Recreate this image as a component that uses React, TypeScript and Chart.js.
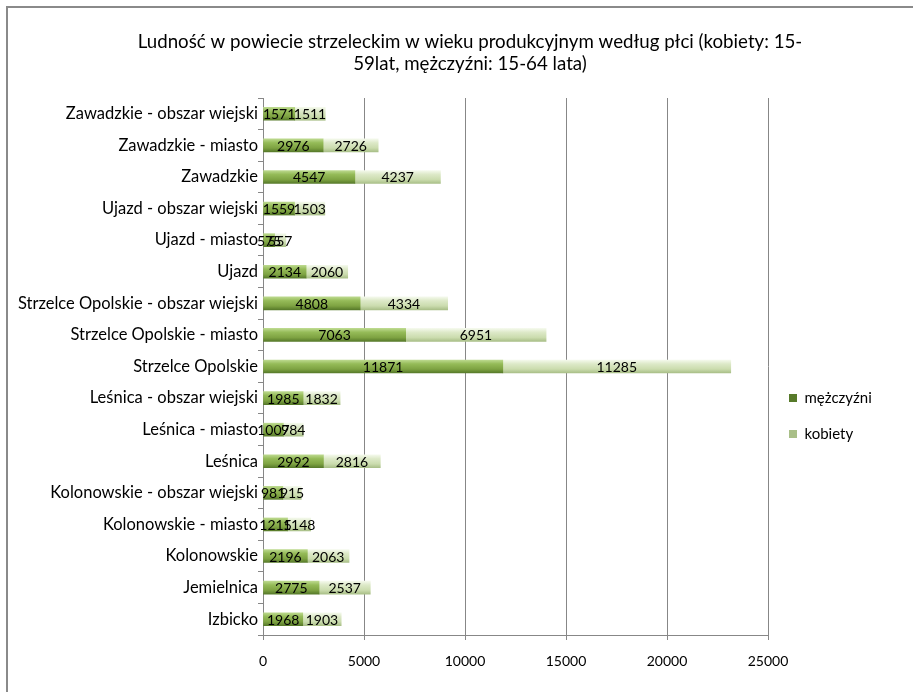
import React, { useEffect, useRef } from "react";
import { Chart, registerables } from "chart.js";

Chart.register(...registerables);

const categories = [
  "Zawadzkie - obszar wiejski",
  "Zawadzkie - miasto",
  "Zawadzkie",
  "Ujazd - obszar wiejski",
  "Ujazd - miasto",
  "Ujazd",
  "Strzelce Opolskie - obszar wiejski",
  "Strzelce Opolskie - miasto",
  "Strzelce Opolskie",
  "Leśnica - obszar wiejski",
  "Leśnica - miasto",
  "Leśnica",
  "Kolonowskie - obszar wiejski",
  "Kolonowskie - miasto",
  "Kolonowskie",
  "Jemielnica",
  "Izbicko",
];

const men = [1571, 2976, 4547, 1559, 575, 2134, 4808, 7063, 11871, 1985, 1007, 2992, 981, 1215, 2196, 2775, 1968];
const women = [1511, 2726, 4237, 1503, 557, 2060, 4334, 6951, 11285, 1832, 984, 2816, 915, 1148, 2063, 2537, 1903];

const seriesNames = ["mężczyźni", "kobiety"];
const titleLines = [
  "Ludność w powiecie strzeleckim w wieku produkcyjnym według płci (kobiety: 15-",
  "59lat, mężczyźni: 15-64 lata)",
];

const FONT = "Lato, 'DejaVu Sans', sans-serif";
const BAR_H = 13;
const PAD_L = 10;
const PAD_R = -17;
const LEGEND_W = 162;

function gradientFill(stops: string[], solid: string) {
  return (c: any) => {
    const chart = c.chart;
    const ys = chart.scales && chart.scales.y;
    if (!ys || c.dataIndex === undefined || !chart.chartArea) return solid;
    const yc = ys.getPixelForValue(c.dataIndex);
    const g = chart.ctx.createLinearGradient(0, yc - BAR_H / 2, 0, yc + BAR_H / 2);
    g.addColorStop(0, stops[0]);
    g.addColorStop(0.3, stops[1]);
    g.addColorStop(0.7, stops[2]);
    g.addColorStop(1, stops[3]);
    return g;
  };
}

const valueLabels = {
  id: "valueLabels",
  afterDatasetsDraw(chart: any) {
    const ctx = chart.ctx;
    ctx.save();
    ctx.font = `14px ${FONT}`;
    ctx.fillStyle = "#000";
    ctx.textAlign = "center";
    ctx.textBaseline = "middle";
    chart.data.datasets.forEach((ds: any, di: number) => {
      const meta = chart.getDatasetMeta(di);
      meta.data.forEach((el: any, i: number) => {
        const cx = (el.x + el.base) / 2;
        ctx.fillText(String(ds.data[i]), cx, el.y + 1);
      });
    });
    ctx.restore();
  },
};

const legendFix = {
  id: "legendFix",
  beforeLayout(chart: any) {
    const lg = chart.legend;
    if (lg && !lg.__patched) {
      const orig = lg.fit.bind(lg);
      lg.fit = function () {
        orig();
        this.width = LEGEND_W;
      };
      lg.__patched = true;
    }
  },
};

export default function App() {
  const ref = useRef<HTMLCanvasElement | null>(null);

  useEffect(() => {
    document.body.style.margin = "0";
    const canvas = ref.current;
    if (!canvas) return;
    const chart = new Chart(canvas, {
      type: "bar",
      data: {
        labels: categories,
        datasets: [
          {
            label: seriesNames[0],
            data: men,
            backgroundColor: gradientFill(["#bcd98e", "#95bb58", "#7ea342", "#577a2a"], "#7fa446"),
            borderWidth: 0,
            barThickness: BAR_H,
            stack: "s",
          },
          {
            label: seriesNames[1],
            data: women,
            backgroundColor: gradientFill(["#f4f9ec", "#dde9c8", "#cbdcae", "#a9bf88"], "#c6da9f"),
            borderWidth: 0,
            barThickness: BAR_H,
            stack: "s",
          },
        ],
      },
      options: {
        indexAxis: "y",
        responsive: false,
        animation: false,
        layout: { padding: { left: PAD_L, right: PAD_R, top: 0, bottom: 0 } },
        scales: {
          x: {
            stacked: true,
            min: 0,
            max: 25000,
            ticks: {
              stepSize: 5000,
              color: "#000",
              font: { family: FONT, size: 14 },
              padding: 13,
              callback: (v: any) => String(v),
            },
            grid: {
              color: "#878787",
              tickLength: 5,
              drawTicks: true,
            },
            border: { color: "#878787" },
            afterFit: (s: any) => {
              s.height = 57;
            },
          },
          y: {
            stacked: true,
            ticks: {
              color: "#000",
              font: { family: FONT, size: 16.5 },
              padding: 0,
              autoSkip: false,
            },
            grid: {
              drawOnChartArea: false,
              drawTicks: true,
              tickLength: 5,
              color: "#878787",
            },
            border: { color: "#878787" },
            afterFit: (s: any) => {
              s.width = 263 - PAD_L;
            },
          },
        },
        plugins: {
          title: {
            display: true,
            text: titleLines,
            color: "#000",
            font: { family: FONT, size: 18.7, weight: "normal", lineHeight: 22 / 18.7 },
            padding: { top: 31, bottom: 23 },
          },
          legend: {
            position: "right",
            title: { display: true, text: " ", font: { size: 12, lineHeight: 1 }, padding: { top: 0, bottom: 128 } },
            labels: {
              boxWidth: 8,
              boxHeight: 8,
              padding: 21,
              color: "#000",
              font: { family: FONT, size: 15, lineHeight: 0.43 },
            },
          },
          tooltip: { enabled: false },
        },
      },
      plugins: [valueLabels, legendFix],
    });
    return () => chart.destroy();
  }, []);

  return (
    <div style={{ position: "relative", width: 913, height: 692, background: "#fff", overflow: "hidden" }}>
      <div
        style={{
          position: "absolute",
          left: 6,
          top: 6,
          right: 0,
          bottom: 0,
          borderLeft: "2px solid #8a8a8a",
          borderTop: "2px solid #8a8a8a",
        }}
      />
      <canvas ref={ref} width={913} height={692} style={{ position: "absolute", left: 0, top: 0 }} />
    </div>
  );
}
